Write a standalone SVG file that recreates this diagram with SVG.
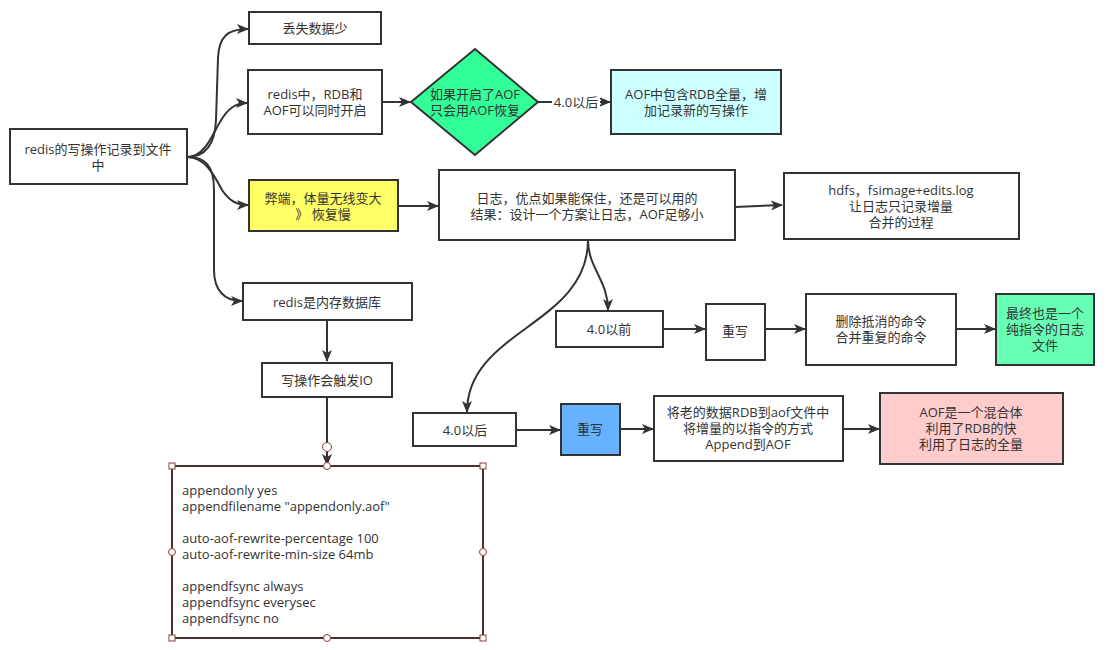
<svg xmlns="http://www.w3.org/2000/svg" width="1106" height="650" viewBox="0 0 1106 650">
<style>
text{font-family:"Open Sans","Noto Sans CJK SC",sans-serif;font-size:13px;fill:#333;text-anchor:middle;dominant-baseline:central}
.b{stroke:#333;stroke-width:2;fill:#fff}
.e{stroke:#333;stroke-width:2;fill:none;marker-end:url(#a)}
.l{text-anchor:start}
.h{fill:#fff;stroke:#8b3a3a;stroke-width:1}
</style>
<defs>
<marker id="a" viewBox="0 0 12 10" refX="11" refY="5" markerWidth="12" markerHeight="10" markerUnits="userSpaceOnUse" orient="auto">
<path d="M0,0 L12,5 L0,10 L3,5 z" fill="#333"/>
</marker>
</defs>
<rect width="1106" height="650" fill="#fff"/>
<g id="connectors">
<path class="e" d="M187,157 C205,157 215,145 216,120 L218,58 C219,36 228,29 248,29"/>
<path class="e" d="M187,157 C205,157 212,135 220,122 C228,108 236,103 247,103"/>
<path class="e" d="M187,157 C205,157 214,175 222,190 C230,202 238,205 248,205"/>
<path class="e" d="M187,157 C205,157 214,165 214,190 L214,270 C214,290 224,301 242,301"/>
<path class="e" d="M382,102 L410,102"/>
<path class="e" d="M538,102 L610,102"/>
<path class="e" d="M398,206 L438,206"/>
<path class="e" d="M735,207 L782,205"/>
<path class="e" d="M327,320 L327,361"/>
<path class="e" d="M327,397 L327,465"/>
<path class="e" d="M588,240 C588,268 608,280 608,310"/>
<path class="e" d="M588,240 C588,325 467,330 467,412"/>
<path class="e" d="M662,329 L705,329"/>
<path class="e" d="M765,329 L805,329"/>
<path class="e" d="M956,329 L995,329"/>
<path class="e" d="M516,430 L560,430"/>
<path class="e" d="M620,429 L653,429"/>
<path class="e" d="M843,429 L879,429"/>
<rect x="552" y="93" width="48" height="18" fill="#fff"/>
<text x="576" y="102">4.0以后</text>
</g>
<g id="root"><rect class="b" x="10" y="129" width="177" height="55"/><text x="98" y="149">redis的写操作记录到文件</text><text x="98" y="165">中</text></g>
<g id="lose"><rect class="b" x="249" y="12" width="132" height="32"/><text x="315" y="28">丢失数据少</text></g>
<g id="both"><rect class="b" x="248" y="70" width="134" height="64"/><text x="315" y="94">redis中，RDB和</text><text x="315" y="110">AOF可以同时开启</text></g>
<g id="diamond"><path d="M475,49 L538,102 L475,155 L411,102 Z" fill="#33FF99" stroke="#333" stroke-width="2"/><text x="475" y="94">如果开启了AOF</text><text x="475" y="110">只会用AOF恢复</text></g>
<g id="aofrdb"><rect class="b" x="611" y="70" width="170" height="64" style="fill:#CCFFFF"/><text x="696" y="94">AOF中包含RDB全量，增</text><text x="696" y="110">加记录新的写操作</text></g>
<g id="drawback"><rect class="b" x="249" y="180" width="149" height="51" style="fill:#FFFF66"/><text x="323" y="198">弊端，体量无线变大</text><text x="323" y="214">》 恢复慢</text></g>
<g id="log"><rect class="b" x="439" y="170" width="296" height="70"/><text x="587" y="198">日志，优点如果能保住，还是可以用的</text><text x="587" y="214">结果：设计一个方案让日志，AOF足够小</text></g>
<g id="hdfs"><rect class="b" x="784" y="173" width="235" height="66"/><text x="901" y="190">hdfs，fsimage+edits.log</text><text x="901" y="206">让日志只记录增量</text><text x="901" y="222">合并的过程</text></g>
<g id="mem"><rect class="b" x="243" y="283" width="169" height="37"/><text x="327" y="302">redis是内存数据库</text></g>
<g id="io"><rect class="b" x="262" y="363" width="130" height="34"/><text x="327" y="380">写操作会触发IO</text></g>
<g id="config">
<rect x="172" y="466" width="311" height="172" fill="#fff" stroke="#333" stroke-width="2"/>
<rect x="172" y="466" width="311" height="172" fill="none" stroke="#6b2c2c" stroke-width="1"/>
<text class="l" x="182" y="490">appendonly yes</text>
<text class="l" x="182" y="506">appendfilename "appendonly.aof"</text>
<text class="l" x="182" y="538">auto-aof-rewrite-percentage 100</text>
<text class="l" x="182" y="554">auto-aof-rewrite-min-size 64mb</text>
<text class="l" x="182" y="586">appendfsync always</text>
<text class="l" x="182" y="602">appendfsync everysec</text>
<text class="l" x="182" y="618">appendfsync no</text>
<rect class="h" x="169" y="463" width="6" height="6"/>
<rect class="h" x="480" y="463" width="6" height="6"/>
<rect class="h" x="169" y="635" width="6" height="6"/>
<rect class="h" x="480" y="635" width="6" height="6"/>
<circle class="h" cx="327" cy="466" r="3.5"/>
<circle class="h" cx="327" cy="638" r="3.5"/>
<circle class="h" cx="172" cy="552" r="3.5"/>
<circle class="h" cx="483" cy="552" r="3.5"/>
<circle class="h" cx="327" cy="447" r="4.5"/>
</g>
<g id="before40"><rect class="b" x="556" y="311" width="107" height="36"/><text x="609" y="329">4.0以前</text></g>
<g id="rewrite1"><rect class="b" x="706" y="304" width="59" height="56"/><text x="735" y="331">重写</text></g>
<g id="delete"><rect class="b" x="806" y="294" width="150" height="71"/><text x="881" y="321">删除抵消的命令</text><text x="881" y="337">合并重复的命令</text></g>
<g id="final"><rect class="b" x="996" y="294" width="98" height="71" style="fill:#66FFB3"/><text x="1045" y="313">最终也是一个</text><text x="1045" y="329">纯指令的日志</text><text x="1045" y="345">文件</text></g>
<g id="after40"><rect class="b" x="413" y="413" width="103" height="33"/><text x="465" y="430">4.0以后</text></g>
<g id="rewrite2"><rect class="b" x="561" y="404" width="59" height="51" style="fill:#66B2FF"/><text x="590" y="429">重写</text></g>
<g id="old"><rect class="b" x="654" y="396" width="189" height="65"/><text x="748" y="412">将老的数据RDB到aof文件中</text><text x="748" y="428">将增量的以指令的方式</text><text x="748" y="444">Append到AOF</text></g>
<g id="mix"><rect class="b" x="880" y="393" width="183" height="71" style="fill:#FFCCCC"/><text x="971" y="412">AOF是一个混合体</text><text x="971" y="428">利用了RDB的快</text><text x="971" y="444">利用了日志的全量</text></g>
</svg>
